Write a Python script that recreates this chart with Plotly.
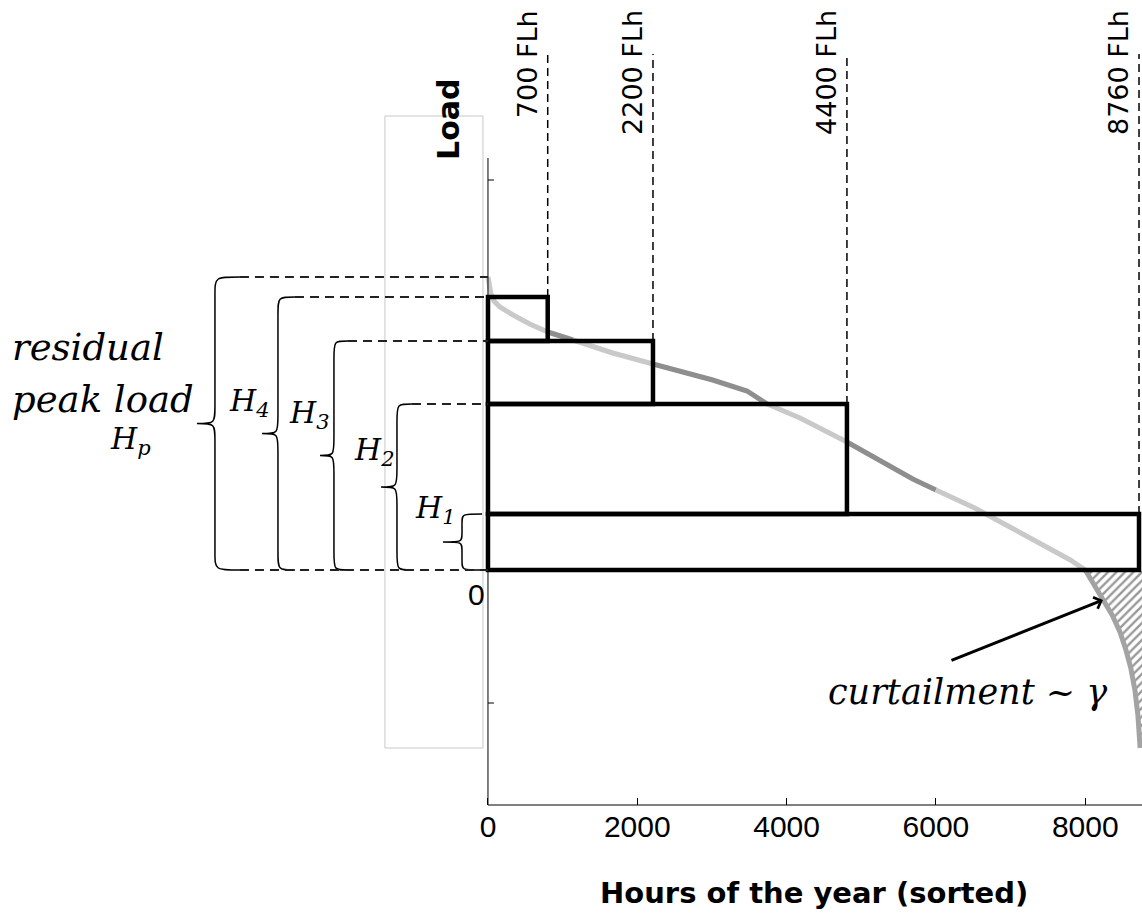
import plotly.graph_objects as go

# sorted residual load duration curve (hours, load)
hours = [0, 13, 40, 80, 160, 335, 560, 800, 1040, 1140, 1670, 2210, 2570, 3010, 3470,
         3740, 4180, 4808, 5250, 5690, 6000, 6520, 6990, 7530, 7800, 8000, 8130, 8240,
         8360, 8465, 8545, 8610, 8665, 8705, 8735]
load = [29.3, 28.4, 27.6, 26.9, 26.3, 25.5, 24.6, 23.8, 23.2, 23.0, 21.7, 20.6, 19.9, 19.0,
        17.9, 16.6, 15.2, 12.8, 10.9, 9.1, 8.0, 6.2, 4.3, 2.1, 1.0, 0.0, -1.5, -3.0, -4.5,
        -6.2, -8.0, -9.8, -12.0, -14.5, -17.8]

# colour segments of the curve
seg_breaks = [0, 800, 1140, 2210, 3740, 4808, 6000, 8000, 8735]
seg_colors = ['#c9c9c9', '#8e8e8e', '#c9c9c9', '#8e8e8e', '#c9c9c9', '#8e8e8e', '#c9c9c9', '#a3a3a3']

# technology blocks (full-load hours)
flh_labels = ['700 FLh', '2200 FLh', '4400 FLh', '8760 FLh']
block_hours = [800, 2210, 4808, 8720]
block_top = [27.3, 22.9, 16.6, 5.6]
block_bottom = [22.9, 16.6, 5.6, 0.0]

brace_tops = [load[0], 27.3, 22.9, 16.6, 5.6]
brace_labels = ['', 'H<sub>4</sub>', 'H<sub>3</sub>', 'H<sub>2</sub>', 'H<sub>1</sub>']

x_ticks = [0, 2000, 4000, 6000, 8000]
y_ticks = [39.0, -13.3]

fig = go.Figure()

# curtailment (hatched)
cx = [h for h in hours if h >= 8000]
cy = [v for h, v in zip(hours, load) if h >= 8000]
fig.add_trace(go.Scatter(x=cx + [8760, 8760], y=cy + [cy[-1], 0], fill='toself', mode='none',
                         fillcolor='white',
                         fillpattern=dict(shape='/', fgcolor='#333333', bgcolor='white', size=6, solidity=0.4),
                         hoverinfo='skip'))

for i in range(len(seg_colors)):
    a, b = seg_breaks[i], seg_breaks[i + 1]
    sx = [h for h in hours if a <= h <= b]
    sy = [v for h, v in zip(hours, load) if a <= h <= b]
    fig.add_trace(go.Scatter(x=sx, y=sy, mode='lines', line=dict(color=seg_colors[i], width=5),
                             hoverinfo='skip'))

shapes = []
# blocks
for w, t, bt in zip(block_hours, block_top, block_bottom):
    shapes.append(dict(type='rect', x0=0, x1=w, y0=bt, y1=t, line=dict(color='black', width=4.5)))
# vertical dashed FLh lines
for w, t in zip(block_hours, block_top):
    shapes.append(dict(type='line', x0=w, x1=w, y0=t, y1=51.6,
                       line=dict(color='black', width=1.5, dash='8px,5px')))

# axes lines
shapes.append(dict(type='line', xref='x', yref='paper', x0=0, x1=8760, y0=0, y1=0,
                   line=dict(color='black', width=1)))
shapes.append(dict(type='line', x0=0, x1=0, y0=-23.5, y1=41.2, line=dict(color='black', width=1)))
for yt in y_ticks:
    shapes.append(dict(type='line', x0=0, x1=80, y0=yt, y1=yt, line=dict(color='black', width=1)))

# thin grey frame
shapes.append(dict(type='rect', x0=-1380, x1=-67, y0=-17.8, y1=45.4, line=dict(color='#c8c8c8', width=1)))

# braces: (tip x, stroke x, end x)
brace_x = [(-3898, -3657, -3322), (-3027, -2813, -2585), (-2250, -2063, -1875),
           (-1433, -1219, -1018), (-603, -348, -80)]
for (xl, xm, xr), top in zip(brace_x, brace_tops):
    bot = 0.0
    mid = (top + bot) / 2
    d = min(1.8, (top - bot) / 6)
    p = (f'M{xr},{top} C{xm},{top} {xm},{top} {xm},{top - d} '
         f'L{xm},{mid + d} C{xm},{mid} {xm},{mid} {xl},{mid} '
         f'C{xm},{mid} {xm},{mid} {xm},{mid - d} '
         f'L{xm},{bot + d} C{xm},{bot} {xm},{bot} {xr},{bot}')
    shapes.append(dict(type='path', path=p, line=dict(color='black', width=1.5)))
    if top != 5.6:
        shapes.append(dict(type='line', x0=xr, x1=0, y0=top, y1=top,
                           line=dict(color='#222222', width=2, dash='9px,6px')))
shapes.append(dict(type='line', x0=brace_x[0][2], x1=0, y0=0, y1=0,
                   line=dict(color='#222222', width=2, dash='9px,6px')))

ann = []
for w, lab in zip(block_hours, flh_labels):
    ann.append(dict(x=w, y=56.2, text=lab, textangle=-90, showarrow=False, xanchor='right',
                    yanchor='top', xshift=-3, font=dict(family='DejaVu Sans', size=27, color='black')))

serif = dict(family='DejaVu Serif', size=30, color='black')
label_pos = [(-3496, 16.8), (-2692, 15.6), (-1822, 11.9), (-1004, 6.1)]
for (lx, ly), lab in zip(label_pos, brace_labels[1:]):
    ann.append(dict(x=lx, y=ly, text='<i>' + lab + '</i>', showarrow=False, xanchor='left',
                    yanchor='middle', font=serif))
ann.append(dict(x=-6402, y=22.3, text='<i>residual</i>', showarrow=False, xanchor='left',
                yanchor='middle', font=dict(family='DejaVu Serif', size=37, color='black')))
ann.append(dict(x=-6402, y=17.1, text='<i>peak load</i>', showarrow=False, xanchor='left',
                yanchor='middle', font=dict(family='DejaVu Serif', size=37, color='black')))
ann.append(dict(x=-4782, y=13.0, text='<i>H<sub>p</sub></i>', showarrow=False, xanchor='center',
                yanchor='middle', font=serif))
ann.append(dict(x=6429, y=-12.2, text='<i>curtailment ~ γ</i>', showarrow=False,
                font=dict(family='DejaVu Serif', size=35, color='black')))
ann.append(dict(x=8237, y=-3.0, ax=6188, ay=-9.1, axref='x', ayref='y', text='', showarrow=True,
                arrowhead=4, arrowsize=0.8, arrowwidth=3, arrowcolor='black'))
ann.append(dict(x=-536, y=45.1, text='<b>Load</b>', textangle=-90, showarrow=False,
                font=dict(family='DejaVu Sans', size=30, color='black')))
ann.append(dict(x=0, y=0, text='0', showarrow=False, xanchor='right', yanchor='top', xshift=-1, yshift=-6,
                font=dict(family='Liberation Sans', size=30, color='black')))
ann.append(dict(x=4366, xref='x', yref='paper', y=-0.109, yanchor='middle',
                text='<b>Hours of the year (sorted)</b>', showarrow=False,
                font=dict(family='DejaVu Sans', size=29, color='black')))

fig.update_layout(
    width=1142, height=917,
    margin=dict(l=0, r=0, t=0, b=112),
    paper_bgcolor='white', plot_bgcolor='white',
    showlegend=False, hovermode=False,
    shapes=shapes, annotations=ann,
    xaxis=dict(range=[-6536, 8760], showgrid=False, zeroline=False, showline=False,
               tickvals=x_ticks, ticks='inside', ticklen=7, tickcolor='black',
               ticklabelstandoff=1,
               tickfont=dict(family='Liberation Sans', size=30, color='black')),
    yaxis=dict(range=[-23.5, 57.0], showgrid=False, zeroline=False, showline=False,
               showticklabels=False, ticks=''),
)

fig.write_html("out.html", config={'displayModeBar': False},
               post_script="document.body.style.margin='0';")
